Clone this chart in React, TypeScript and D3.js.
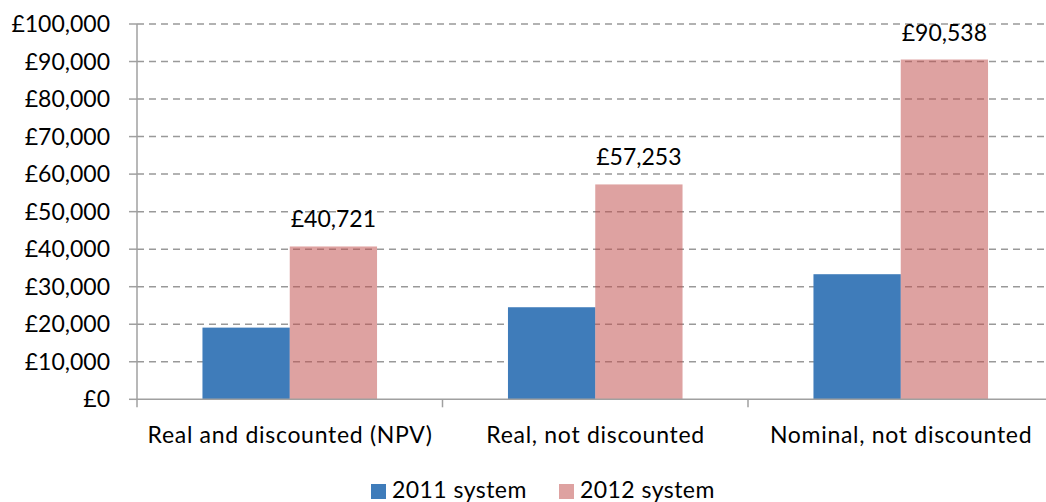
import React from "react";
import * as d3 from "d3";

const categories = ["Real and discounted (NPV)", "Real, not discounted", "Nominal, not discounted"];
const seriesNames = ["2011 system", "2012 system"];
const values2011 = [19100, 24530, 33330];
const values2012 = [40721, 57253, 90538];
const yTicks = [0, 10000, 20000, 30000, 40000, 50000, 60000, 70000, 80000, 90000, 100000];

const W = 1046;
const H = 502;
const FONT = "Lato, 'Open Sans', sans-serif";
const FS = 23;
const colors = ["#3F7CBA", "#C0504D"];
const opac = [1, 0.53];

export default function App() {
  const x0 = d3.scaleBand<string>().domain(categories).range([137, 1053.5]).padding(0);
  const x1 = d3
    .scaleBand<string>()
    .domain(seriesNames)
    .range([0, x0.bandwidth()])
    .paddingInner(0)
    .paddingOuter(0.75);
  const y = d3.scaleLinear().domain([0, 100000]).range([399.3, 24]);
  const fmt = (v: number) => "£" + d3.format(",")(v);
  const series = [values2011, values2012];
  const boundaries = [...categories.map((c) => x0(c) as number), (x0(categories[2]) as number) + x0.bandwidth()];

  return (
    <svg
      width={W}
      height={H}
      style={{ position: "absolute", left: 0, top: 0, background: "#fff" }}
      fontFamily={FONT}
    >
      <rect x={0} y={0} width={W} height={H} fill="#fff" />
      {/* gridlines */}
      {yTicks.map((t) => (
        <line
          key={"g" + t}
          x1={137}
          x2={W}
          y1={y(t)}
          y2={y(t)}
          stroke="#999"
          strokeWidth={1.5}
          strokeDasharray="7,5"
          visibility={t === 0 ? "hidden" : "visible"}
        />
      ))}
      {/* bars */}
      {categories.map((c, i) => (
        <g key={c}>
          {series.map((vals, s) => {
            const bx = (x0(c) as number) + (x1(seriesNames[s]) as number);
            return (
              <rect
                key={s}
                x={bx}
                y={y(vals[i])}
                width={x1.bandwidth()}
                height={y(0) - y(vals[i])}
                fill={colors[s]}
                fillOpacity={opac[s]}
              />
            );
          })}
        </g>
      ))}
      {/* data labels */}
      {categories.map((c, i) => {
        const cx = (x0(c) as number) + (x1(seriesNames[1]) as number) + x1.bandwidth() / 2;
        return (
          <text key={"l" + c} x={cx} y={y(values2012[i]) - 19} textAnchor="middle" fontSize={FS} fill="#000">
            {fmt(values2012[i])}
          </text>
        );
      })}
      {/* y axis */}
      <line x1={137} x2={137} y1={y(100000)} y2={y(0)} stroke="#A0A0A0" strokeWidth={1.5} />
      {yTicks.map((t) => (
        <g key={"yt" + t}>
          <line x1={129} x2={137} y1={y(t)} y2={y(t)} stroke="#A0A0A0" strokeWidth={1.5} />
          <text x={110} y={y(t)} dy="0.35em" textAnchor="end" fontSize={FS} fill="#000">
            {fmt(t)}
          </text>
        </g>
      ))}
      {/* x axis */}
      <line x1={137} x2={W} y1={y(0)} y2={y(0)} stroke="#A0A0A0" strokeWidth={1.5} />
      {boundaries.map((b, i) => (
        <line key={"xt" + i} x1={b} x2={b} y1={y(0)} y2={y(0) + 8} stroke="#A0A0A0" strokeWidth={1.5} />
      ))}
      {categories.map((c) => (
        <text
          key={"xl" + c}
          x={(x0(c) as number) + x0.bandwidth() / 2 + 0.35}
          y={442.7}
          textAnchor="middle"
          fontSize={FS}
          letterSpacing={0.7}
          fill="#000"
        >
          {c}
        </text>
      ))}
      {/* legend */}
      {seriesNames.map((s, i) => {
        const lx = i === 0 ? 371 : 559;
        return (
          <g key={"lg" + s}>
            <rect x={lx} y={484} width={15} height={15} fill={colors[i]} fillOpacity={opac[i]} />
            <text x={lx + 21} y={498.3} fontSize={FS} letterSpacing={0.45} fill="#000">
              {s}
            </text>
          </g>
        );
      })}
    </svg>
  );
}
